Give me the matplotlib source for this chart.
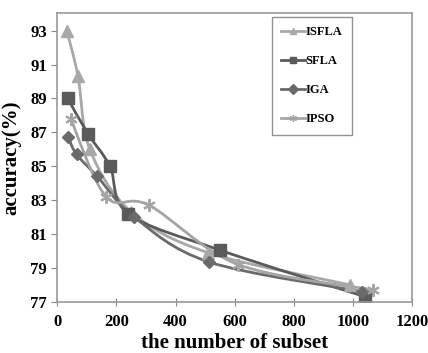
import numpy as np
import matplotlib
matplotlib.use('Agg')
import matplotlib.pyplot as plt
from matplotlib.path import Path
from matplotlib.patches import PathPatch

plt.rcParams['font.family'] = ['Liberation Serif', 'DejaVu Serif']
plt.rcParams['font.weight'] = 'bold'

# data
isfla_x = [32, 70, 110, 250, 510, 990]
isfla_y = [93.0, 90.3, 86.0, 82.3, 79.9, 78.0]
sfla_x = [35, 104, 178, 240, 550, 1041]
sfla_y = [89.0, 86.9, 85.0, 82.2, 80.05, 77.3]
iga_x = [37, 65, 135, 260, 513, 1030]
iga_y = [86.7, 85.7, 84.4, 82.0, 79.35, 77.6]
ipso_x = [45, 165, 310, 612, 1069]
ipso_y = [87.8, 83.2, 82.7, 79.2, 77.7]

star = (6, 2, 0)
series = [
    ('ISFLA', isfla_x, isfla_y, '#a8a8a8', '^', 8),
    ('SFLA', sfla_x, sfla_y, '#5a5a5a', 's', 8),
    ('IGA', iga_x, iga_y, '#6a6a6a', 'D', 6),
    ('IPSO', ipso_x, ipso_y, '#a4a4a4', star, 9),
]


def smooth_path(xs, ys, t=1/6):
    # excel-like smoothed line: catmull-rom turned into bezier segments
    p = np.column_stack([xs, ys]).astype(float)
    verts = [p[0]]
    codes = [Path.MOVETO]
    n = len(p)
    for i in range(n - 1):
        p0 = p[i - 1] if i > 0 else p[i]
        p3 = p[i + 2] if i + 2 < n else p[i + 1]
        c1 = p[i] + (p[i + 1] - p0) * t
        c2 = p[i + 1] - (p3 - p[i]) * t
        verts += [c1, c2, p[i + 1]]
        codes += [Path.CURVE4] * 3
    return Path(verts, codes)


fig = plt.figure(figsize=(4.28, 3.53), dpi=100)
ax = fig.add_axes([0.134, 0.145, 0.829, 0.818])

for name, xs, ys, col, mk, ms in series:
    ax.add_patch(PathPatch(smooth_path(xs, ys), facecolor='none',
                           edgecolor=col, lw=2))
    mew = 1.5 if mk == star else 1
    ax.plot(xs, ys, ls='none', marker=mk, ms=ms, color=col, mew=mew)
    ax.plot([], [], color=col, lw=2, marker=mk, ms=5, label=name)

ax.set_xlim(0, 1200)
ax.set_ylim(77, 94.04)
ax.set_xticks(range(0, 1201, 200))
ax.set_yticks(range(77, 94, 2))
ax.tick_params(axis='x', direction='inout', length=6, color='#888888',
               labelsize=12, pad=6)
ax.tick_params(axis='y', direction='out', length=4, color='#888888',
               labelsize=12)
for s in ax.spines.values():
    s.set_color('#999999')
    s.set_linewidth(1.2)

ax.set_xlabel('the number of subset', fontsize=15, fontweight='bold', labelpad=2)
ax.set_ylabel('accuracy(%)', fontsize=15, fontweight='bold', labelpad=6)

leg = ax.legend(loc='upper left', bbox_to_anchor=(0.604, 0.987), fontsize=9,
                frameon=True, fancybox=False, edgecolor='#777777',
                handlelength=1.9, handletextpad=0.05, labelspacing=1.36,
                borderpad=0.75, borderaxespad=0)
leg.get_frame().set_linewidth(1)

fig.savefig('out.png', dpi=100)
